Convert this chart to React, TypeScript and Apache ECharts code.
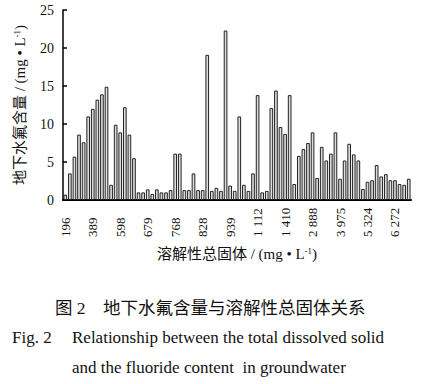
import React, { useEffect, useRef } from "react";
import * as echarts from "echarts";

const tickLabels = ["196", "389", "598", "679", "768", "828", "939", "1 112", "1 410", "2 888", "3 975", "5 324", "6 272"];
const labelEvery = 6;
const fluoride = [
  0.7, 3.5, 5.7, 8.6, 7.6, 11.0, 12.0, 13.2, 13.9, 14.9,
  2.0, 9.9, 8.9, 12.2, 8.6, 5.5, 1.0, 1.0, 1.4, 0.8,
  1.4, 1.0, 1.0, 1.3, 6.1, 6.1, 1.3, 1.3, 3.5, 1.3,
  1.3, 19.1, 1.2, 1.6, 1.2, 22.3, 1.9, 1.2, 11.0, 2.0,
  1.2, 3.5, 13.8, 1.0, 1.2, 12.1, 14.4, 9.6, 8.7, 13.8,
  2.1, 5.8, 6.7, 7.5, 8.9, 2.9, 7.0, 5.2, 6.1, 8.9,
  2.8, 5.2, 7.4, 6.0, 5.2, 1.45, 2.4, 2.6, 4.6, 3.1,
  3.4, 2.6, 2.6, 2.1, 2.0, 2.8,
];
const yTicks = { min: 0, max: 25, interval: 5 };
const yName = ["地下水氟含量 / (mg • L", "-1", ")"];
const xName = ["溶解性总固体 / (mg • L", "-1", ")"];
const captionCn = ["图 2", "地下水氟含量与溶解性总固体关系"];
const captionEn = ["Fig. 2", "Relationship between the total dissolved solid", "and the fluoride content  in groundwater"];

const SERIF = "'Liberation Serif', 'Noto Sans CJK SC', serif";

export default function App() {
  const ref = useRef<HTMLDivElement>(null);
  useEffect(() => {
    if (!ref.current) return;
    const chart = echarts.init(ref.current, null, { renderer: "svg" });
    const categories = fluoride.map((_, i) =>
      i % labelEvery === 0 && tickLabels[i / labelEvery] !== undefined ? tickLabels[i / labelEvery] : ""
    );
    const nameRich = {
      n: { fontSize: 15, fontFamily: SERIF, color: "#111" },
      s: { fontSize: 9, fontFamily: SERIF, color: "#111", verticalAlign: "top" as const },
    };
    chart.setOption({
      animation: false,
      grid: { left: 63, right: 14, top: 10, bottom: 184, containLabel: false },
      xAxis: {
        type: "category",
        data: categories,
        name: `{n|${xName[0]}}{s|${xName[1]}}{n|${xName[2]}}`,
        nameLocation: "middle",
        nameGap: 46,
        nameTextStyle: { rich: nameRich },
        axisLine: { lineStyle: { color: "#000", width: 2 } },
        axisTick: { show: false },
        axisLabel: {
          interval: 0,
          rotate: 90,
          align: "left",
          verticalAlign: "middle",
          margin: 37,
          fontSize: 13,
          fontFamily: SERIF,
          color: "#111",
        },
      },
      yAxis: {
        type: "value",
        min: yTicks.min,
        max: yTicks.max,
        interval: yTicks.interval,
        name: `{n|${yName[0]}}{s|${yName[1]}}{n|${yName[2]}}`,
        nameLocation: "middle",
        nameGap: 36,
        nameTextStyle: { rich: nameRich },
        axisLine: { show: true, lineStyle: { color: "#000", width: 1.5 } },
        axisTick: { show: true, inside: true, length: 4, lineStyle: { color: "#000", width: 1.5 } },
        splitLine: { show: false },
        axisLabel: { fontSize: 14, fontFamily: SERIF, color: "#111", margin: 9 },
      },
      series: [
        {
          type: "bar",
          data: fluoride,
          barCategoryGap: "20%",
          itemStyle: { color: "#dcdcdc", borderColor: "#222", borderWidth: 1 },
        },
      ],
      graphic: [
        { type: "text", left: 55, top: 299, style: { text: captionCn[0], font: `17.5px ${SERIF}`, fill: "#111" } },
        { type: "text", left: 103, top: 299, style: { text: captionCn[1], font: `17.5px ${SERIF}`, fill: "#111" } },
        { type: "text", left: 12, top: 329, style: { text: captionEn[0], font: `17px ${SERIF}`, fill: "#111" } },
        { type: "text", left: 72, top: 329, style: { text: captionEn[1], font: `17px ${SERIF}`, fill: "#111" } },
        { type: "text", left: 72, top: 359, style: { text: captionEn[2], font: `17px ${SERIF}`, fill: "#111" } },
      ],
    });
    return () => chart.dispose();
  }, []);
  return <div ref={ref} style={{ width: 425, height: 384, position: "absolute", left: 0, top: 0, background: "#fff" }} />;
}
